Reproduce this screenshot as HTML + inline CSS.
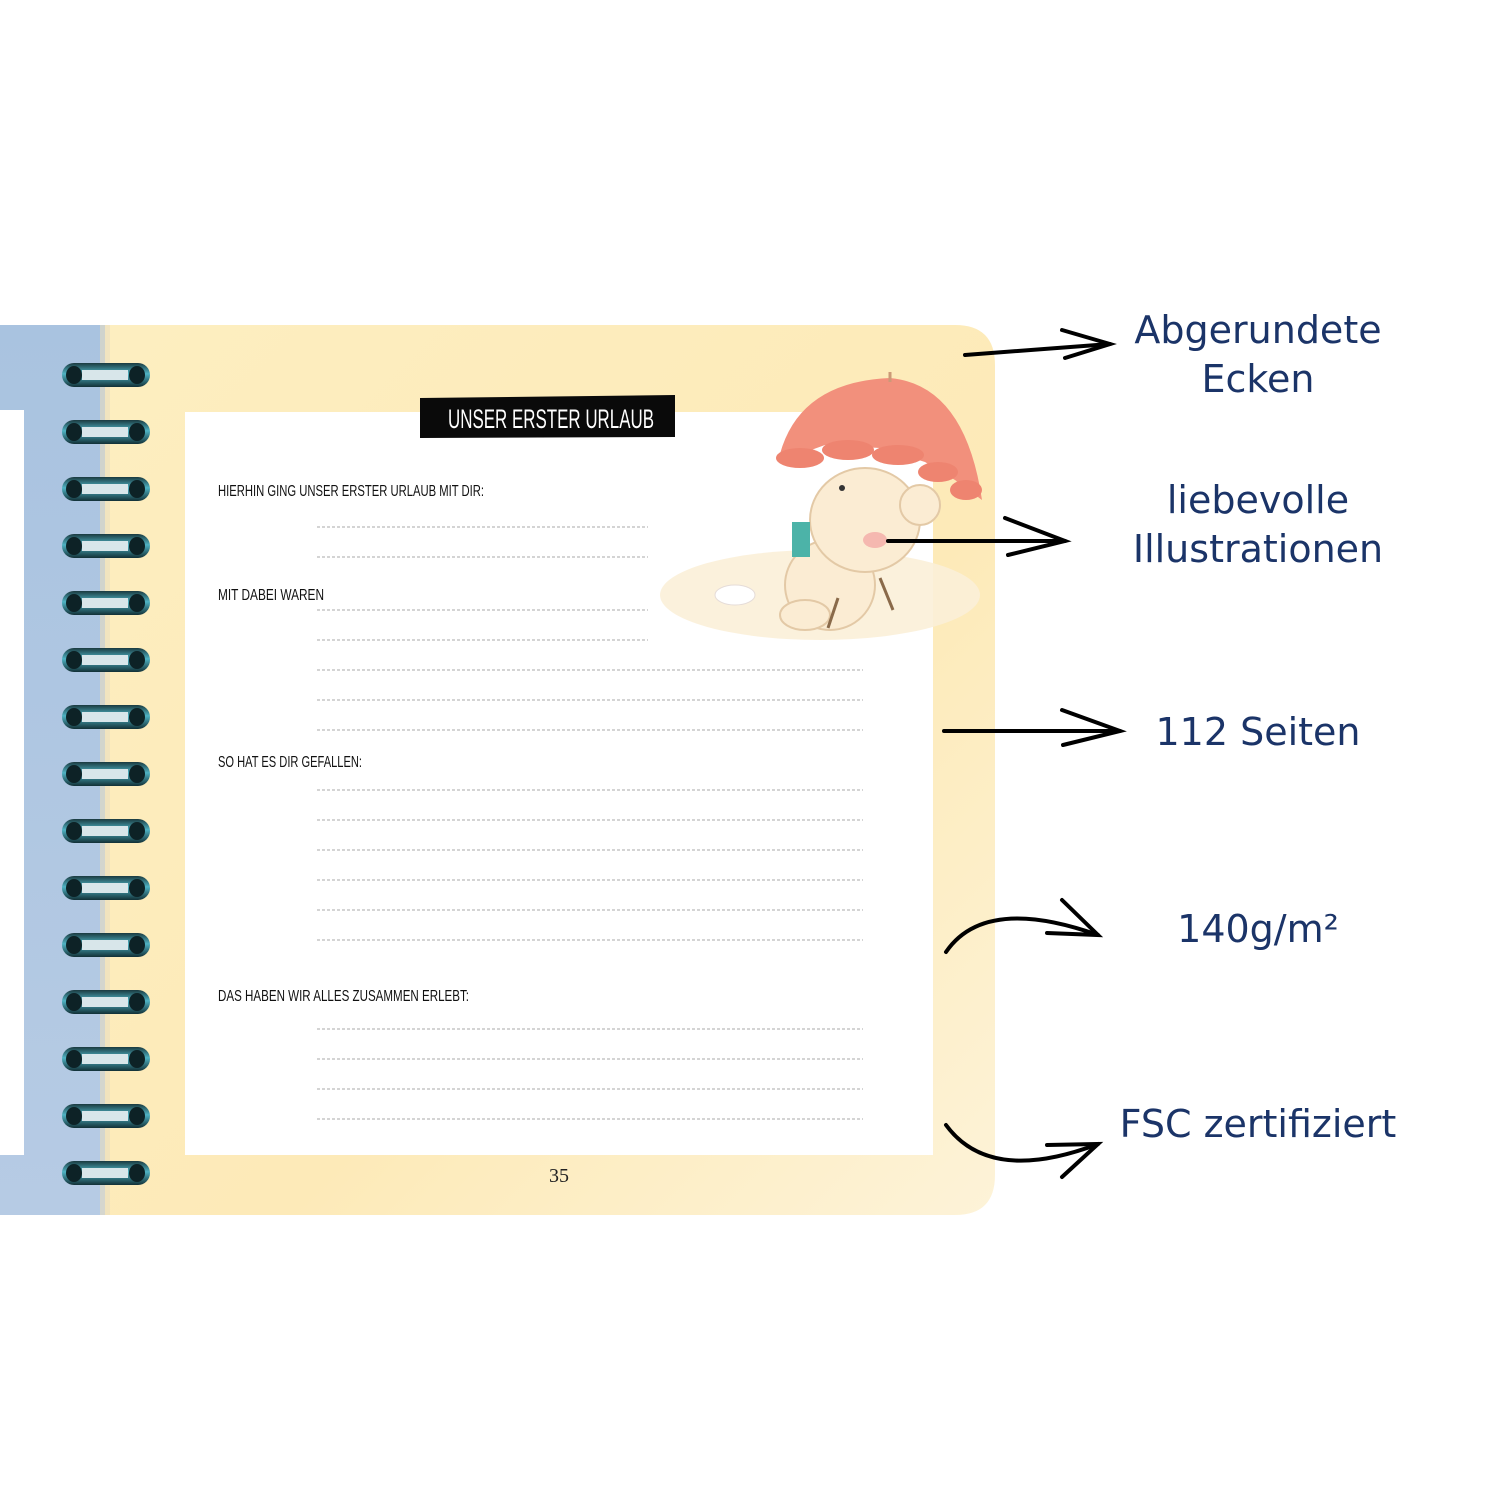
<!DOCTYPE html>
<html><head><meta charset="utf-8"><style>
html,body{margin:0;padding:0;background:#fff}
svg{display:block}
.lab{font-family:"DejaVu Sans","Liberation Sans",sans-serif;fill:#1b3468;font-size:38px;text-anchor:middle}
.hw{font-family:"Liberation Sans",sans-serif;fill:#111;font-size:16px}
</style></head><body>
<svg width="1500" height="1500" viewBox="0 0 1500 1500">
<defs>
<linearGradient id="yel" x1="0" y1="0" x2="1" y2="1">
<stop offset="0" stop-color="#fdeec0"/><stop offset="0.6" stop-color="#fdeab8"/><stop offset="1" stop-color="#fdf3d8"/>
</linearGradient>
<linearGradient id="blue" x1="0" y1="0" x2="0" y2="1">
<stop offset="0" stop-color="#a9c3e0"/><stop offset="1" stop-color="#b6cbe4"/>
</linearGradient>
<linearGradient id="ring" x1="0" y1="0" x2="0" y2="1">
<stop offset="0" stop-color="#1a3a40"/><stop offset="0.45" stop-color="#4fb3c3"/><stop offset="1" stop-color="#123036"/>
</linearGradient>
</defs>
<rect x="0" y="325" width="108" height="890" fill="url(#blue)"/>
<rect x="0" y="410" width="24" height="745" fill="#fff"/>
<path d="M105 325 H955 Q995 325 995 365 V1175 Q995 1215 955 1215 H105 Z" fill="url(#yel)"/>
<rect x="100" y="325" width="10" height="890" fill="#e9ddc0" opacity="0.6"/>
<rect x="185" y="412" width="748" height="743" fill="#fff"/>
<ellipse cx="820" cy="595" rx="160" ry="45" fill="#fbefd8" opacity="0.9"/>
<!-- umbrella -->
<path d="M778 462 Q795 382 890 378 Q965 385 982 500 L955 480 L925 462 L880 448 L825 445 Z" fill="#f2907c"/>
<g fill="#ee8470">
<ellipse cx="800" cy="458" rx="24" ry="10"/><ellipse cx="848" cy="450" rx="26" ry="10"/><ellipse cx="898" cy="455" rx="26" ry="10"/><ellipse cx="938" cy="472" rx="20" ry="10"/><ellipse cx="966" cy="490" rx="16" ry="10"/>
</g>
<line x1="890" y1="372" x2="890" y2="382" stroke="#c97" stroke-width="3"/>
<!-- bear -->
<ellipse cx="830" cy="585" rx="45" ry="45" fill="#fbecd3" stroke="#e3c9a6" stroke-width="2"/>
<ellipse cx="865" cy="520" rx="55" ry="52" fill="#fbecd3" stroke="#e3c9a6" stroke-width="2"/>
<circle cx="920" cy="505" r="20" fill="#fbecd3" stroke="#e3c9a6" stroke-width="2"/>
<ellipse cx="805" cy="615" rx="25" ry="15" fill="#fbecd3" stroke="#e3c9a6" stroke-width="2"/>
<ellipse cx="875" cy="540" rx="12" ry="8" fill="#f5b8b0"/>
<circle cx="842" cy="488" r="3" fill="#333"/>
<rect x="792" y="522" width="18" height="35" fill="#4cb3a8"/>
<line x1="838" y1="598" x2="828" y2="628" stroke="#8a6a4a" stroke-width="3"/>
<line x1="880" y1="578" x2="893" y2="610" stroke="#8a6a4a" stroke-width="3"/>
<ellipse cx="735" cy="595" rx="20" ry="10" fill="#fff" stroke="#e5dcd8"/>
<!-- title -->
<path d="M420 398 L675 395 L675 437 L420 438 Z" fill="#0a0a0a"/>
<text x="448" y="428" font-family="Liberation Sans,sans-serif" font-size="27" fill="#fff" textLength="206" lengthAdjust="spacingAndGlyphs">UNSER ERSTER URLAUB</text>
<text class="hw" x="218" y="496" textLength="266" lengthAdjust="spacingAndGlyphs">HIERHIN GING UNSER ERSTER URLAUB MIT DIR:</text>
<text class="hw" x="218" y="600" textLength="106" lengthAdjust="spacingAndGlyphs">MIT DABEI WAREN</text>
<text class="hw" x="218" y="767" textLength="144" lengthAdjust="spacingAndGlyphs">SO HAT ES DIR GEFALLEN:</text>
<text class="hw" x="218" y="1001" textLength="251" lengthAdjust="spacingAndGlyphs">DAS HABEN WIR ALLES ZUSAMMEN ERLEBT:</text>
<g stroke="#bbb" stroke-width="1.2" stroke-dasharray="3 2">
<line x1="317" y1="527" x2="648" y2="527"/><line x1="317" y1="557" x2="648" y2="557"/>
<line x1="317" y1="610" x2="648" y2="610"/><line x1="317" y1="640" x2="648" y2="640"/>
<line x1="317" y1="670" x2="863" y2="670"/><line x1="317" y1="700" x2="863" y2="700"/><line x1="317" y1="730" x2="863" y2="730"/>
<line x1="317" y1="790" x2="863" y2="790"/><line x1="317" y1="820" x2="863" y2="820"/><line x1="317" y1="850" x2="863" y2="850"/>
<line x1="317" y1="880" x2="863" y2="880"/><line x1="317" y1="910" x2="863" y2="910"/><line x1="317" y1="940" x2="863" y2="940"/>
<line x1="317" y1="1029" x2="863" y2="1029"/><line x1="317" y1="1059" x2="863" y2="1059"/><line x1="317" y1="1089" x2="863" y2="1089"/><line x1="317" y1="1119" x2="863" y2="1119"/>
</g>
<text x="559" y="1182" font-family="Liberation Serif,serif" font-size="20" fill="#222" text-anchor="middle">35</text>
<g>
<g id="r"><rect x="62" y="363" width="88" height="24" rx="12" fill="url(#ring)"/><rect x="82" y="370" width="46" height="10" fill="#d8e6ea"/><ellipse cx="74" cy="375" rx="8" ry="9" fill="#0d2226"/><ellipse cx="137" cy="375" rx="8" ry="9" fill="#0d2226"/></g>
<use href="#r" y="57"/><use href="#r" y="114"/><use href="#r" y="171"/><use href="#r" y="228"/><use href="#r" y="285"/><use href="#r" y="342"/><use href="#r" y="399"/><use href="#r" y="456"/><use href="#r" y="513"/><use href="#r" y="570"/><use href="#r" y="627"/><use href="#r" y="684"/><use href="#r" y="741"/><use href="#r" y="798"/>
</g>
<g fill="none" stroke="#000" stroke-width="4" stroke-linecap="round">
<path d="M965 355 L1110 344"/><path d="M1062 330 L1110 344 L1065 358"/>
<path d="M888 541 L1065 541"/><path d="M1005 518 L1065 541 L1008 555"/>
<path d="M944 731 L1120 731"/><path d="M1062 710 L1120 731 L1063 745"/>
<path d="M946 952 Q985 895 1098 935"/><path d="M1062 900 L1098 935 L1047 933"/>
<path d="M946 1125 Q990 1185 1098 1144"/><path d="M1047 1145 L1098 1144 L1062 1177"/>
</g>
<text class="lab" x="1258" y="343">Abgerundete</text>
<text class="lab" x="1258" y="392">Ecken</text>
<text class="lab" x="1258" y="513">liebevolle</text>
<text class="lab" x="1258" y="562">Illustrationen</text>
<text class="lab" x="1258" y="745">112 Seiten</text>
<text class="lab" x="1258" y="942">140g/m²</text>
<text class="lab" x="1258" y="1137">FSC zertifiziert</text>
</svg>
</body></html>
